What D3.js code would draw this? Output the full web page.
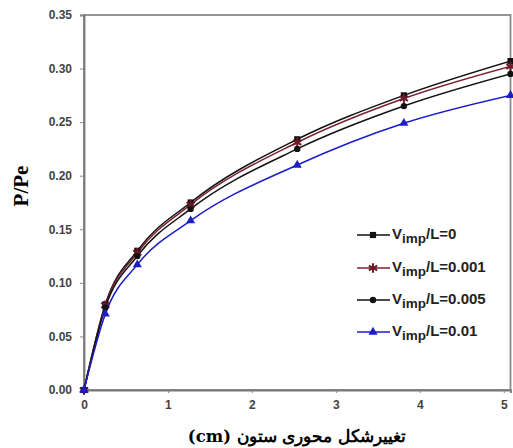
<!DOCTYPE html>
<html>
<head>
<meta charset="utf-8">
<script src="https://cdn.jsdelivr.net/npm/d3@7"></script>
<style>
  body { margin: 0; background: #fff; }
  svg { display: block; }
</style>
</head>
<body>
<div id="chart"></div>
<script>
// data
const xValues = [0, 0.254, 0.635, 1.27, 2.54, 3.81, 5.08];
const seriesNames = ["0", "0.001", "0.005", "0.01"];
const yZero  = [0, 0.080, 0.130, 0.175, 0.234, 0.275, 0.307];
const yP001  = [0, 0.079, 0.128, 0.173, 0.231, 0.272, 0.302];
const yP005  = [0, 0.077, 0.125, 0.169, 0.225, 0.265, 0.295];
const yP01   = [0, 0.071, 0.117, 0.158, 0.210, 0.249, 0.275];
const xTicks = [0, 1, 2, 3, 4, 5];
const yTicks = [0, 0.05, 0.10, 0.15, 0.20, 0.25, 0.30, 0.35];

const width = 513, height = 448;
const margin = { top: 15, right: 2, bottom: 58, left: 84 };

const svg = d3.select("#chart").append("svg")
  .attr("width", width).attr("height", height);

const x = d3.scaleLinear().domain([0, 5.08]).range([margin.left, width - margin.right - 0.5]);
const y = d3.scaleLinear().domain([0, 0.35]).range([height - margin.bottom, margin.top]);

// plot frame
svg.append("rect")
  .attr("x", x(0)).attr("y", y(0.35))
  .attr("width", x(5.08) - x(0)).attr("height", y(0) - y(0.35))
  .attr("fill", "none").attr("stroke", "#8a8a8a").attr("stroke-width", 1.8);

// axes
const xAxis = svg.append("g")
  .attr("transform", `translate(0,${y(0)})`)
  .call(d3.axisBottom(x).tickValues(xTicks).tickSize(3).tickPadding(7).tickFormat(d3.format("d")));
const yAxis = svg.append("g")
  .attr("transform", `translate(${x(0)},0)`)
  .call(d3.axisLeft(y).tickValues(yTicks).tickSize(4).tickPadding(8).tickFormat(d3.format(".2f")));

[xAxis, yAxis].forEach(g => {
  g.select(".domain").attr("stroke", "#777").attr("stroke-width", 1.8);
  g.selectAll(".tick line").attr("stroke", "#888");
  g.selectAll(".tick text")
    .attr("font-family", "Liberation Sans, Arial, sans-serif")
    .attr("font-weight", "bold").attr("font-size", 12).attr("fill", "#444");
});

// axis titles
svg.append("text")
  .attr("transform", `translate(28,186) rotate(-90)`)
  .attr("text-anchor", "middle")
  .attr("font-family", "Liberation Serif, Times New Roman, serif")
  .attr("font-weight", "bold").attr("font-size", 21)
  .text("P/Pe");

svg.append("text")
  .attr("x", 297).attr("y", 442)
  .attr("text-anchor", "middle")
  .attr("font-family", "DejaVu Serif, Liberation Serif, serif")
  .attr("font-weight", "bold").attr("font-size", 16.5)
  .attr("direction", "rtl")
  .text("تغییرشکل محوری ستون (cm)");

// series
const asterisk = d3.symbolAsterisk || d3.symbolCross;
const series = [
  { name: seriesNames[0], values: yZero, line: "#111", fill: "#111", symbol: d3.symbolSquare, size: 38, stroke: false },
  { name: seriesNames[1], values: yP001, line: "#7b2030", fill: "#6b1a28", symbol: asterisk, size: 64, stroke: true },
  { name: seriesNames[2], values: yP005, line: "#111", fill: "#111", symbol: d3.symbolCircle, size: 32, stroke: false },
  { name: seriesNames[3], values: yP01, line: "#1c1cc8", fill: "#1c1cc8", symbol: d3.symbolTriangle, size: 36, stroke: false }
];

const line = d3.line()
  .x((d, i) => x(xValues[i]))
  .y(d => y(d))
  .curve(d3.curveMonotoneX);

series.forEach(s => {
  svg.append("path")
    .attr("d", line(s.values))
    .attr("fill", "none").attr("stroke", s.line).attr("stroke-width", 1.5);
});

function drawMarker(g, s, cx, cy) {
  const sym = d3.symbol().type(s.symbol).size(s.size);
  const p = g.append("path")
    .attr("d", sym())
    .attr("transform", `translate(${cx},${cy})`);
  if (s.stroke) p.attr("fill", "none").attr("stroke", s.fill).attr("stroke-width", 2);
  else p.attr("fill", s.fill);
}

series.forEach(s => {
  const g = svg.append("g");
  s.values.forEach((v, i) => drawMarker(g, s, x(xValues[i]), y(v)));
});

// legend
const legendY = [235, 268, 300, 332];
series.forEach((s, i) => {
  const g = svg.append("g").attr("transform", `translate(357,${legendY[i]})`);
  g.append("line").attr("x1", 0).attr("x2", 33).attr("y1", 0).attr("y2", 0)
    .attr("stroke", s.line).attr("stroke-width", 1.5);
  drawMarker(g, s, 16, 0);
  const t = g.append("text")
    .attr("x", 35).attr("y", 4)
    .attr("font-family", "Liberation Sans, Arial, sans-serif")
    .attr("font-weight", "bold").attr("font-size", 15).attr("fill", "#222");
  t.append("tspan").text("V");
  t.append("tspan").attr("dy", 4).attr("font-size", 13.5).text("imp");
  t.append("tspan").attr("dy", -4).text("/L=" + s.name);
});
</script>
</body>
</html>
